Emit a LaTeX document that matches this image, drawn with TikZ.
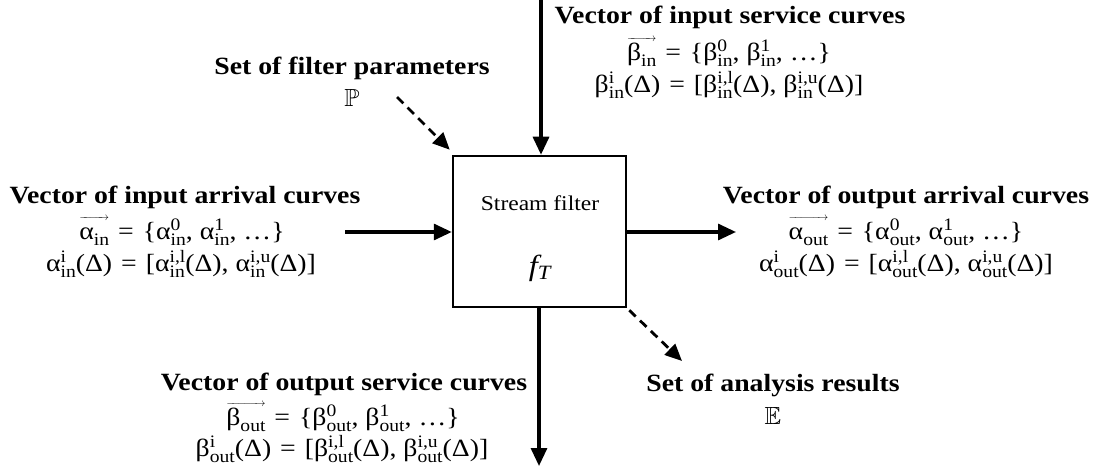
\documentclass[tikz,border=0pt]{standalone}
\usepackage{fontspec}
\usepackage{amssymb}
\setmainfont{Liberation Serif}[FakeStretch=1.12]
\usetikzlibrary{arrows.meta}

% size used for indices
\newcommand\scr{\fontsize{17.5}{17.5}\selectfont}
% superscript and subscript stacked after a symbol
\newcommand\su[2]{\setbox0\hbox{\scr #1}\setbox2\hbox{\scr #2}%
  \ifdim\wd0>\wd2 \dimen0=\wd0 \else \dimen0=\wd2 \fi
  \hbox to \dimen0{\rlap{\raise0.37em\box0}\lower0.22em\box2\hss}}
% subscript only
\newcommand\sbs[1]{\lower0.22em\hbox{\scr #1}}
% vector arrow over a subscripted symbol
\newcommand\vecx[2]{\setbox4\hbox{#1\sbs{#2}}%
  \rlap{\raise0.76em\hbox to \wd4{\fontsize{11}{11}\selectfont\rightarrowfill}}\box4}
% relation sign with wider spacing
\newcommand\eqs{\hspace{2pt} = \hspace{2pt}}

\tikzset{
  lbl/.style={inner sep=0pt, font=\fontsize{24.8}{28}\selectfont},
  head/.style={lbl, font=\fontsize{24.8}{28}\selectfont\bfseries},
  conn/.style={line width=3.2pt, -{Triangle[length=18pt,width=16pt]}},
  dashconn/.style={line width=2.8pt, dash pattern=on 9pt off 6pt,
    -{Triangle[length=17pt,width=15pt]}},
  filterbox/.style={draw, line width=2.5pt, minimum width=173pt,
    minimum height=151pt, inner sep=0pt}
}

\begin{document}
\begin{tikzpicture}[x=1pt,y=-1pt]
\fill[white] (0,0) rectangle (1094,473);
\useasboundingbox (0,0) rectangle (1094,473);

% central block
\node[filterbox] (filter) at (539.5,231.5) {};
\node[lbl, font=\fontsize{21}{24}\selectfont] (fname) at (540,203) {Stream filter};
\node[lbl, font=\fontsize{29}{32}\selectfont\itshape] (ffun) at (540,268) {f\textsubscript{T}};

% input service curves (top)
\node[head] (ishead) at (730,17) {Vector of input service curves};
\node[lbl] (isvec) at (729,52) {\vecx{β}{in}\eqs\{β\su{0}{in}, β\su{1}{in}, …\}};
\node[lbl] (isdef) at (729,85) {β\su{i}{in}(Δ)\eqs[β\su{i,l}{in}(Δ), β\su{i,u}{in}(Δ)]};

% filter parameters
\node[head] (phead) at (352,68) {Set of filter parameters};
\node[lbl] (pset) at (352,98) {$\mathbb{P}$};

% input arrival curves (left)
\node[head] (iahead) at (185,197) {Vector of input arrival curves};
\node[lbl] (iavec) at (182,231) {\vecx{α}{in}\eqs\{α\su{0}{in}, α\su{1}{in}, …\}};
\node[lbl] (iadef) at (181,264) {α\su{i}{in}(Δ)\eqs[α\su{i,l}{in}(Δ), α\su{i,u}{in}(Δ)]};

% output arrival curves (right)
\node[head] (oahead) at (906,197) {Vector of output arrival curves};
\node[lbl] (oavec) at (906,231) {\vecx{α}{out}\eqs\{α\su{0}{out}, α\su{1}{out}, …\}};
\node[lbl] (oadef) at (906,264) {α\su{i}{out}(Δ)\eqs[α\su{i,l}{out}(Δ), α\su{i,u}{out}(Δ)]};

% output service curves (bottom)
\node[head] (oshead) at (344,384) {Vector of output service curves};
\node[lbl] (osvec) at (343,417) {\vecx{β}{out}\eqs\{β\su{0}{out}, β\su{1}{out}, …\}};
\node[lbl] (osdef) at (342,449) {β\su{i}{out}(Δ)\eqs[β\su{i,l}{out}(Δ), β\su{i,u}{out}(Δ)]};

% analysis results
\node[head] (rhead) at (773,385) {Set of analysis results};
\node[lbl] (rset) at (773,416) {$\mathbb{E}$};

% connector end points
\coordinate (tin) at (541,0);
\coordinate (ain) at (345,232);
\coordinate (aout) at (736,232);
\coordinate (bout) at (539,466);
\coordinate (pstart) at (397,97);
\coordinate (eend) at (682,361);

\draw[conn] (tin) -- (filter.north -| tin);
\draw[conn] (ain) -- (filter.west |- ain);
\draw[conn] (filter.east |- aout) -- (aout);
\draw[conn] (filter.south -| bout) -- (bout);
\draw[dashconn] (pstart) -- ([shift={(-2,-5)}]filter.north west);
\draw[dashconn] ([shift={(2,2)}]filter.south east) -- (eend);
\end{tikzpicture}
\end{document}
